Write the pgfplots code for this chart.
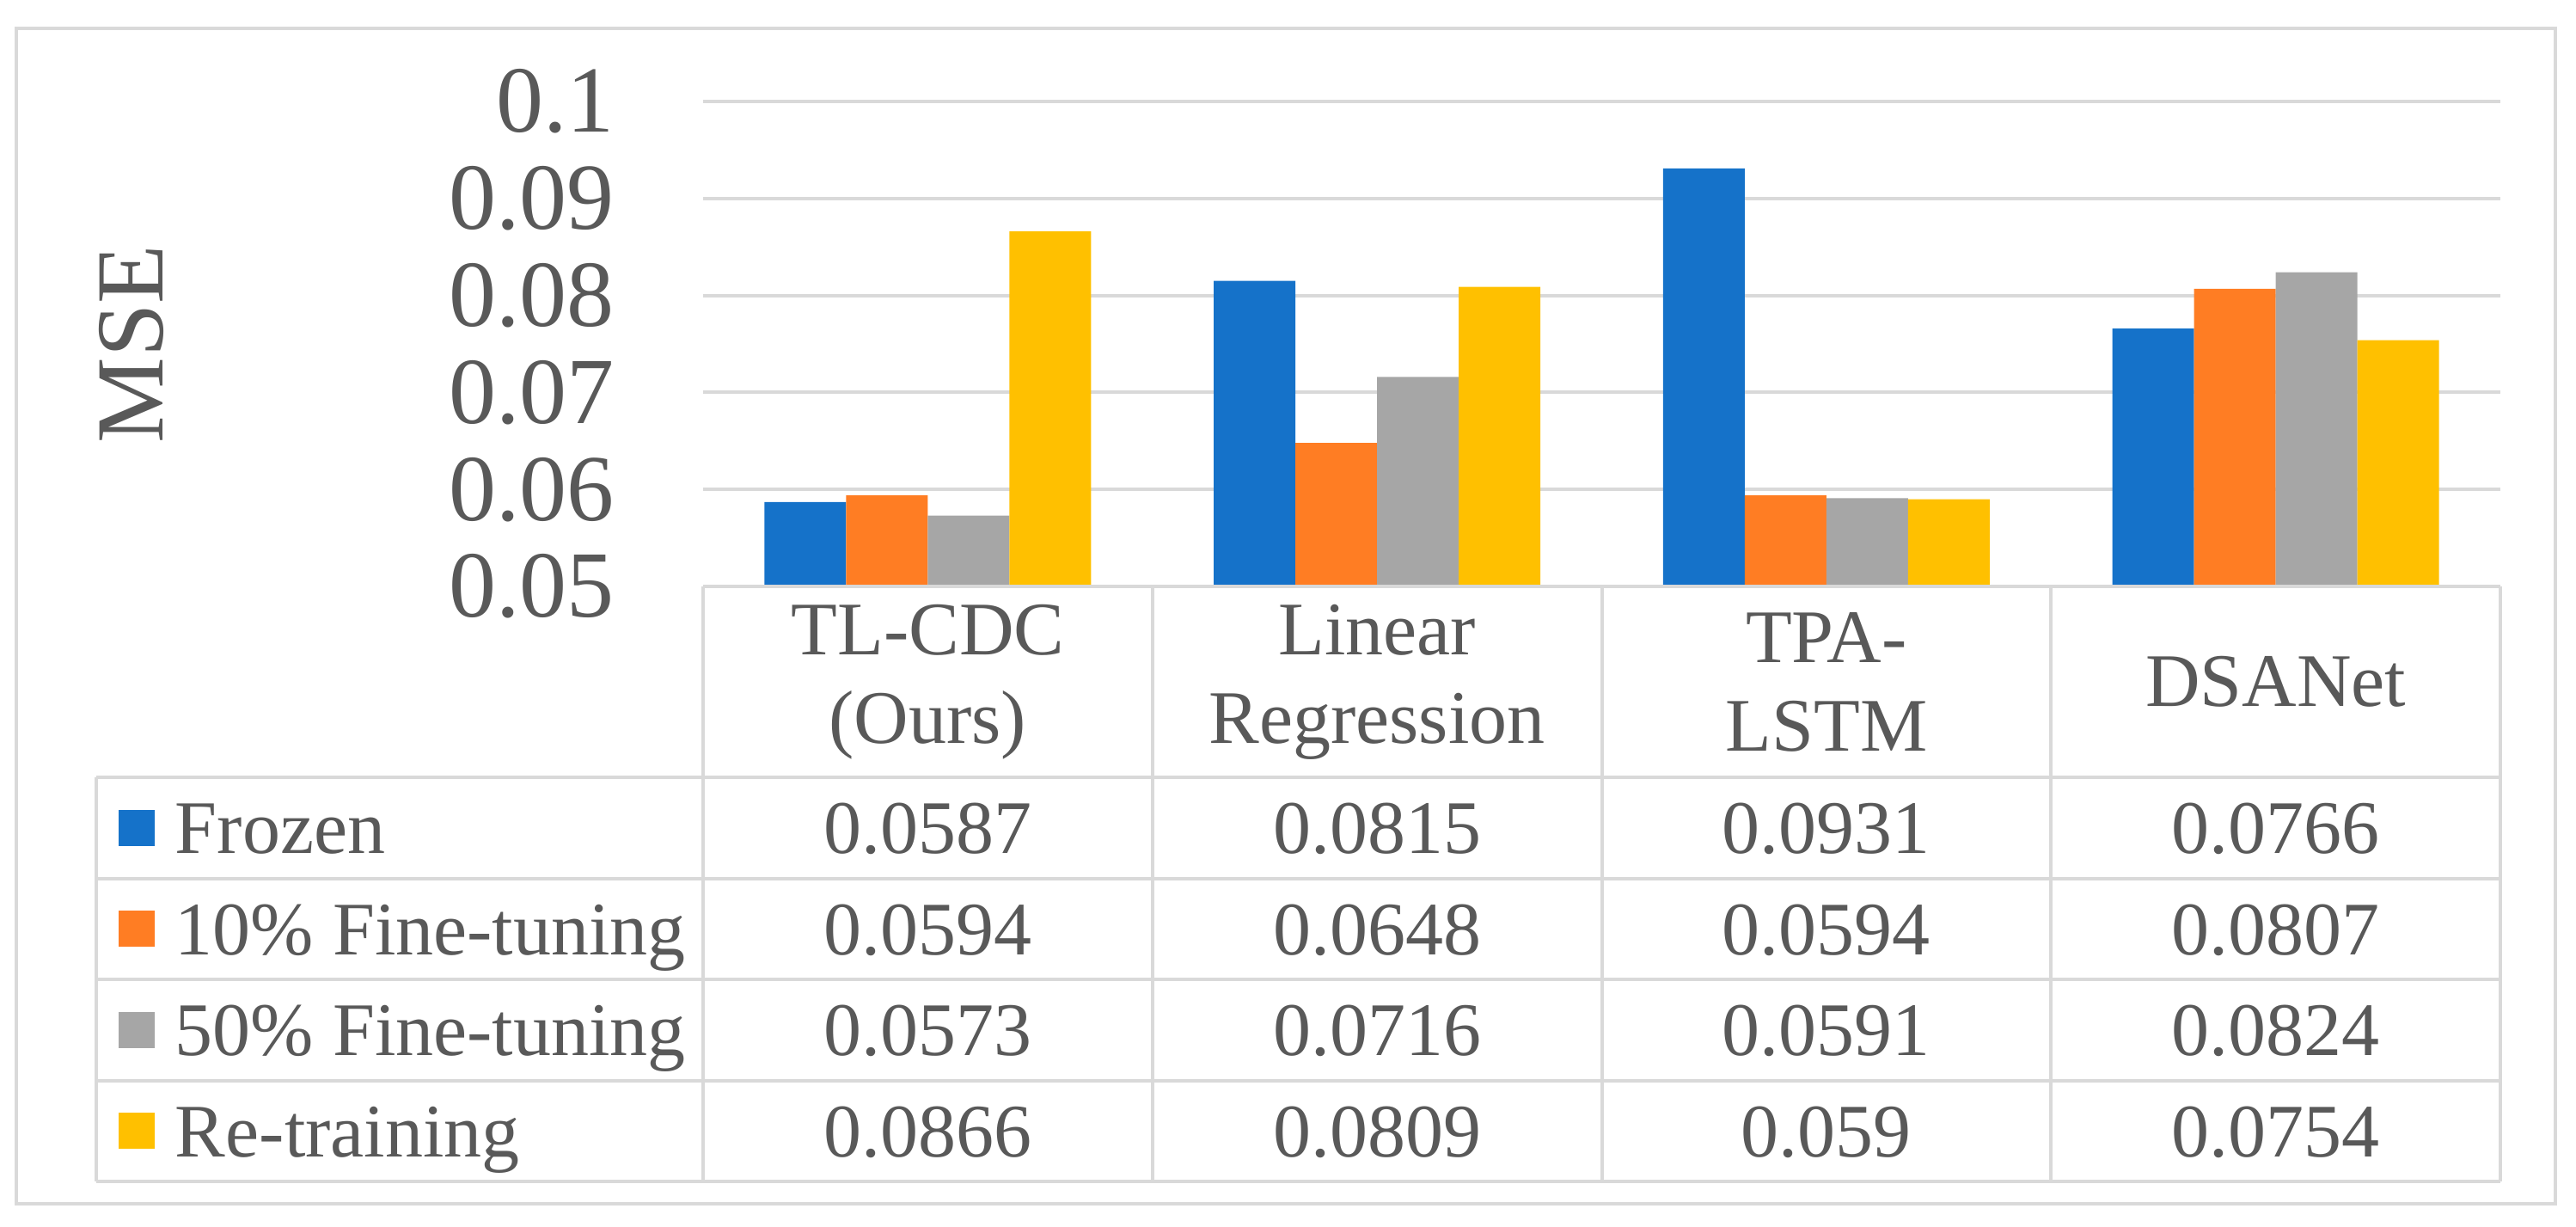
\documentclass[border=0pt]{standalone}
\usepackage{pgfplots}
\usepackage{pgfplotstable}
\pgfplotsset{compat=1.18}
\usepackage{fontspec}
\setmainfont{Liberation Serif}

\definecolor{cFrozen}{RGB}{21,114,201}
\definecolor{cTen}{RGB}{255,125,35}
\definecolor{cFifty}{RGB}{166,166,166}
\definecolor{cRe}{RGB}{255,192,0}
\definecolor{gridc}{RGB}{217,217,217}
\definecolor{txt}{RGB}{89,89,89}

% MSE per method (x = 0..3) and training setting
\pgfplotstableread{
x frozen ten    fifty  re
0 0.0587 0.0594 0.0573 0.0866
1 0.0815 0.0648 0.0716 0.0809
2 0.0931 0.0594 0.0591 0.059
3 0.0766 0.0807 0.0824 0.0754
}\mse

\begin{document}
\begin{tikzpicture}
\path (-81.8pt,-74.4pt) rectangle (217.9pt,68.2pt);

\begin{axis}[
  name=ax, at={(0pt,0pt)}, anchor=south west,
  scale only axis, width=209.1pt, height=56.4pt,
  ybar=0pt, bar width=9.5pt,
  xmin=-0.5, xmax=3.5, ymin=0.05, ymax=0.1,
  xtick=\empty,
  ytick={0.05,0.06,0.07,0.08,0.09,0.1},
  yticklabels={0.05,0.06,0.07,0.08,0.09,0.1},
  major tick length=0pt,
  ymajorgrids, grid style={gridc, line width=0.4pt},
  axis line style={draw=none},
  yticklabel style={font=\fontsize{11}{13}\selectfont, text=txt, inner sep=0pt, xshift=-10.1pt},
  every axis plot post/.append style={
    legend image code/.code={\fill[##1] (0pt,-2.1pt) rectangle (4.2pt,2.1pt);}},
  legend cell align=left,
  legend style={at={(0,0)}, anchor=north west, xshift=-68.0pt, yshift=-22.2pt,
    draw=none, fill=none, inner sep=0pt, outer sep=0pt,
    row sep=0pt, column sep=2.4pt,
    font=\fontsize{8.8}{10}\selectfont, text=txt,
    nodes={inner sep=0pt, text height=8.85pt, text depth=2.9pt, anchor=west}},
]
\addplot[fill=cFrozen, draw=none] table[x=x, y=frozen] {\mse};
\addplot[fill=cTen,    draw=none] table[x=x, y=ten]    {\mse};
\addplot[fill=cFifty,  draw=none] table[x=x, y=fifty]  {\mse};
\addplot[fill=cRe,     draw=none] table[x=x, y=re]     {\mse};
\legend{Frozen, 10\% Fine-tuning, 50\% Fine-tuning, Re-training}
\end{axis}

% data table under the axis
\begin{scope}[gridc, line width=0.4pt]
  \draw (0pt,0pt) -- (209.1pt,0pt);
  \foreach \y in {-22.2,-33.95,-45.7,-57.45,-69.2}
    \draw (-70.6pt,\y pt) -- (209.1pt,\y pt);
  \foreach \x in {0,52.275,104.55,156.825,209.1}
    \draw (\x pt,0pt) -- (\x pt,-69.2pt);
  \draw (-70.6pt,-22.2pt) -- (-70.6pt,-69.2pt);
\end{scope}

\begin{scope}[every node/.style={text=txt, align=center, font=\fontsize{8.8}{10.3}\selectfont}]
  \node at (26.14pt,-11.1pt)  {TL-CDC\\(Ours)};
  \node at (78.41pt,-11.1pt)  {Linear\\Regression};
  \node at (130.69pt,-11.1pt) {TPA-\\LSTM};
  \node at (182.96pt,-11.1pt) {DSANet};
  \foreach \col [count=\r from 0] in {frozen,ten,fifty,re} {
    \foreach \i in {0,...,3} {
      \pgfplotstablegetelem{\i}{\col}\of\mse
      \node[anchor=base] at ({26.1375pt+\i*52.275pt},{-31.075pt-\r*11.75pt}) {\pgfplotsretval};
    }
  }
\end{scope}

\node[rotate=90, text=txt, font=\fontsize{11.2}{13}\selectfont] at (-66.5pt,28.2pt) {MSE};

\draw[gridc, line width=0.4pt] (-79.9pt,-71.8pt) rectangle (215.5pt,64.9pt);
\end{tikzpicture}
\end{document}
